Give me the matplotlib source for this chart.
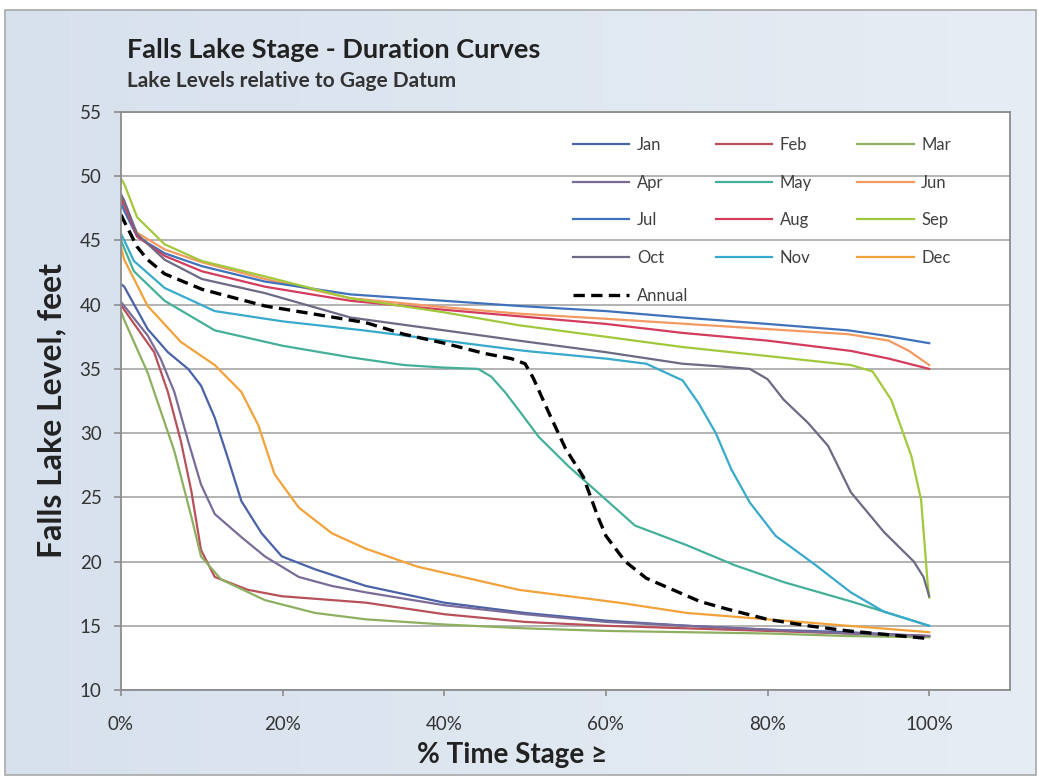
import numpy as np
import matplotlib
matplotlib.use("Agg")
import matplotlib.pyplot as plt
from matplotlib.ticker import PercentFormatter
from matplotlib.patches import Rectangle
from matplotlib.colors import LinearSegmentedColormap

plt.rcParams['font.family'] = ['Lato', 'DejaVu Sans']

# ---------------- data (x = % of time stage is equalled or exceeded, y = feet) ----------------
jan_x = [0, 0.4, 3.3, 5.8, 8.3, 9.9, 11.6, 13.2, 14.9, 17.4, 19.9, 24, 30.3, 40, 50, 60, 70, 80, 90, 100]
jan_y = [41.6, 41.4, 38.1, 36.3, 35.0, 33.7, 31.2, 28.1, 24.7, 22.2, 20.4, 19.4, 18.1, 16.8, 16.0, 15.4, 15.0, 14.7, 14.5, 14.2]
feb_x = [0, 0.4, 4.1, 5.8, 7.4, 8.7, 9.9, 11.6, 15.7, 19.9, 30.3, 40, 50, 60, 70, 80, 90, 100]
feb_y = [40.0, 39.6, 36.3, 33.2, 29.4, 25.5, 20.9, 18.8, 17.8, 17.3, 16.8, 15.9, 15.3, 15.0, 14.8, 14.6, 14.4, 14.2]
mar_x = [0, 0.4, 3.3, 6.6, 8.7, 9.9, 12.4, 17.8, 24, 30.3, 40, 50, 60, 70, 80, 90, 100]
mar_y = [39.5, 38.8, 34.7, 28.6, 23.5, 20.4, 18.6, 17.0, 16.0, 15.5, 15.1, 14.8, 14.6, 14.5, 14.4, 14.2, 14.1]
apr_x = [0, 0.4, 3.3, 4.9, 6.6, 8.3, 9.9, 11.6, 14.9, 17.8, 22, 26.1, 30.3, 40, 50, 60, 70, 80, 90, 100]
apr_y = [40.2, 39.9, 37.6, 35.8, 33.2, 29.4, 26.0, 23.7, 21.9, 20.4, 18.8, 18.1, 17.6, 16.6, 15.9, 15.3, 15.0, 14.7, 14.4, 14.2]
may_x = [0, 0.4, 1.6, 5.4, 11.6, 20, 28.4, 35, 40, 44.2, 45.8, 47.5, 49.2, 51.7, 55.4, 59.5, 63.6, 69.9, 76, 82, 90.3, 98.5, 100]
may_y = [45.0, 44.4, 42.6, 40.3, 38.0, 36.8, 35.9, 35.3, 35.1, 35.0, 34.4, 33.2, 31.8, 29.7, 27.4, 25.1, 22.8, 21.3, 19.7, 18.4, 16.9, 15.3, 15.0]
jun_x = [0, 0.4, 2, 5.4, 10, 17.8, 28.4, 40, 49.2, 60, 70, 80, 90, 95, 97.5, 100]
jun_y = [47.8, 47.4, 45.6, 44.3, 43.3, 42.0, 40.5, 39.8, 39.3, 38.9, 38.5, 38.1, 37.7, 37.2, 36.4, 35.3]
jul_x = [0, 0.4, 2, 5.4, 10, 17.8, 28.4, 40, 49.2, 60, 69.5, 80, 90, 94.4, 100]
jul_y = [48.0, 47.3, 45.3, 44.0, 43.0, 41.8, 40.8, 40.3, 39.9, 39.5, 39.0, 38.5, 38.0, 37.6, 37.0]
aug_x = [0, 0.4, 2, 5.4, 10, 17.8, 28.4, 40, 49.2, 60, 69.5, 80, 90.3, 95, 100]
aug_y = [48.3, 47.8, 45.3, 43.8, 42.6, 41.4, 40.3, 39.6, 39.1, 38.5, 37.8, 37.2, 36.4, 35.8, 35.0]
sep_x = [0, 0.4, 2, 5.4, 10, 17.8, 28.4, 40, 49.2, 60, 69.5, 80, 90.3, 93, 95.3, 96.5, 97.8, 99, 99.8, 100]
sep_y = [49.8, 49.4, 46.8, 44.7, 43.4, 42.2, 40.5, 39.4, 38.4, 37.5, 36.7, 36.0, 35.3, 34.8, 32.6, 30.5, 28.2, 24.8, 18.4, 17.2]
oct_x = [0, 0.4, 2, 5.4, 10, 17.8, 28.4, 40, 49.2, 60, 69.5, 74, 77.8, 80, 82, 85, 87.5, 90.3, 94.4, 98.1, 99.3, 100]
oct_y = [48.6, 48.1, 45.5, 43.5, 42.0, 40.9, 39.0, 38.0, 37.2, 36.3, 35.4, 35.2, 35.0, 34.2, 32.6, 30.8, 29.0, 25.4, 22.3, 20.0, 18.8, 17.3]
nov_x = [0, 0.4, 1.6, 5.4, 11.6, 20, 30, 40, 50, 60, 65, 69.5, 71.5, 73.6, 75.5, 77.8, 81, 86, 90.3, 94.4, 100]
nov_y = [45.5, 45.0, 43.4, 41.3, 39.5, 38.7, 38.0, 37.2, 36.4, 35.8, 35.4, 34.1, 32.3, 30.0, 27.2, 24.6, 22.0, 19.7, 17.6, 16.1, 15.0]
dec_x = [0, 0.4, 3.3, 7.4, 11.6, 14.9, 17, 19, 22, 26.1, 30.3, 36.7, 49.2, 61.6, 70, 80, 90, 100]
dec_y = [44.5, 43.5, 39.9, 37.1, 35.3, 33.2, 30.6, 26.8, 24.2, 22.2, 21.0, 19.6, 17.8, 16.8, 16.0, 15.5, 15.0, 14.5]
ann_x = [0, 0.3, 2, 3.3, 5.4, 10, 17.8, 30.3, 35, 40, 45, 48.3, 50, 51, 53, 55, 57.2, 59, 60, 62.4, 65, 71.6, 75, 80, 85, 90, 95, 100]
ann_y = [47.0, 46.6, 44.5, 43.5, 42.4, 41.2, 39.9, 38.6, 37.7, 37.0, 36.2, 35.8, 35.4, 34.3, 31.5, 28.8, 26.6, 23.5, 22.0, 20.0, 18.7, 16.9, 16.3, 15.5, 15.0, 14.6, 14.3, 14.0]

months = ['Jan', 'Feb', 'Mar', 'Apr', 'May', 'Jun', 'Jul', 'Aug', 'Sep', 'Oct', 'Nov', 'Dec']
xs = [jan_x, feb_x, mar_x, apr_x, may_x, jun_x, jul_x, aug_x, sep_x, oct_x, nov_x, dec_x]
ys = [jan_y, feb_y, mar_y, apr_y, may_y, jun_y, jul_y, aug_y, sep_y, oct_y, nov_y, dec_y]
colors = ['#4A62A8', '#B8505A', '#8DB060', '#7A6C98', '#45B09A', '#F29A62',
          '#3F72BA', '#D33C5C', '#A2C83C', '#6C6A84', '#38AACB', '#F2A23A']

# ---------------- figure ----------------
W, H = 1039, 780
fig = plt.figure(figsize=(W / 100, H / 100), dpi=100)
fig.patch.set_facecolor('white')

# chart area background (light blue-grey gradient with a thin border)
bg = fig.add_axes([0, 0, 1, 1], zorder=-5)
bg.set_xlim(0, W)
bg.set_ylim(H, 0)
bg.axis('off')
grad = np.linspace(0, 1, 256).reshape(1, -1)
cm = LinearSegmentedColormap.from_list('bgc', ['#d7e1ed', '#e7edf4'])
bg.imshow(grad, extent=(5, 1036, 775, 10), aspect='auto', cmap=cm)
bg.add_patch(Rectangle((5, 10), 1031, 765, fill=False, edgecolor='#a8a8a8', lw=1.2))

ax = fig.add_axes([121 / W, 1 - 690 / H, 889 / W, 578 / H])
ax.set_facecolor('white')

lines = []
for m, x, y, c in zip(months, xs, ys, colors):
    ln, = ax.plot(x, y, color=c, lw=1.6, label=m, solid_joinstyle='round')
    lines.append(ln)
ann, = ax.plot(ann_x, ann_y, color='black', lw=2.4, ls=(0, (3.4, 1.9)), label='Annual')

ax.set_xlim(0, 110)
ax.set_ylim(10, 55)
ax.set_xticks(range(0, 101, 20))
ax.set_yticks(range(10, 56, 5))
ax.xaxis.set_major_formatter(PercentFormatter(100, decimals=0))
ax.yaxis.grid(True, color='#a6a6a6', lw=1.2)
ax.set_axisbelow(True)
for s in ax.spines.values():
    s.set_color('#8c8c8c')
    s.set_linewidth(1.3)
ax.tick_params(axis='y', length=5, width=1.2, color='#8c8c8c', pad=9, labelsize=13.5, labelcolor='#333333')
ax.tick_params(axis='x', length=4, width=1.2, color='#8c8c8c', pad=15, labelsize=13.5, labelcolor='#333333')

# legend: three columns, filled row by row like the original
cols = [[0, 3, 6, 9], [1, 4, 7, 10], [2, 5, 8, 11]]
lx = [0.508, 0.669, 0.828]
for k, (idx, x0) in enumerate(zip(cols, lx)):
    hs = [lines[i] for i in idx]
    if k == 0:
        hs = hs + [ann]
    leg = ax.legend(handles=hs, loc='upper left', bbox_to_anchor=(x0, 0.957), frameon=False,
                    fontsize=12, handlelength=3.4, handletextpad=0.45, labelspacing=1.3,
                    borderpad=0, borderaxespad=0, labelcolor='#404040')
    if k < 2:
        ax.add_artist(leg)

fig.text(127 / W, 1 - 58 / H, 'Falls Lake Stage - Duration Curves', fontsize=19.5, fontweight='bold',
         color='#222222', ha='left', va='baseline')
fig.text(127 / W, 1 - 87 / H, 'Lake Levels relative to Gage Datum', fontsize=15, fontweight='bold',
         color='#333333', ha='left', va='baseline')
fig.text(52 / W, 1 - 411 / H, 'Falls Lake Level, feet', fontsize=23, fontweight='bold',
         color='#222222', rotation=90, ha='center', va='center')
fig.text(512 / W, 1 - 763 / H, '% Time Stage ≥', fontsize=20, fontweight='bold',
         color='#222222', ha='center', va='baseline')

fig.savefig('out.png', dpi=100)
